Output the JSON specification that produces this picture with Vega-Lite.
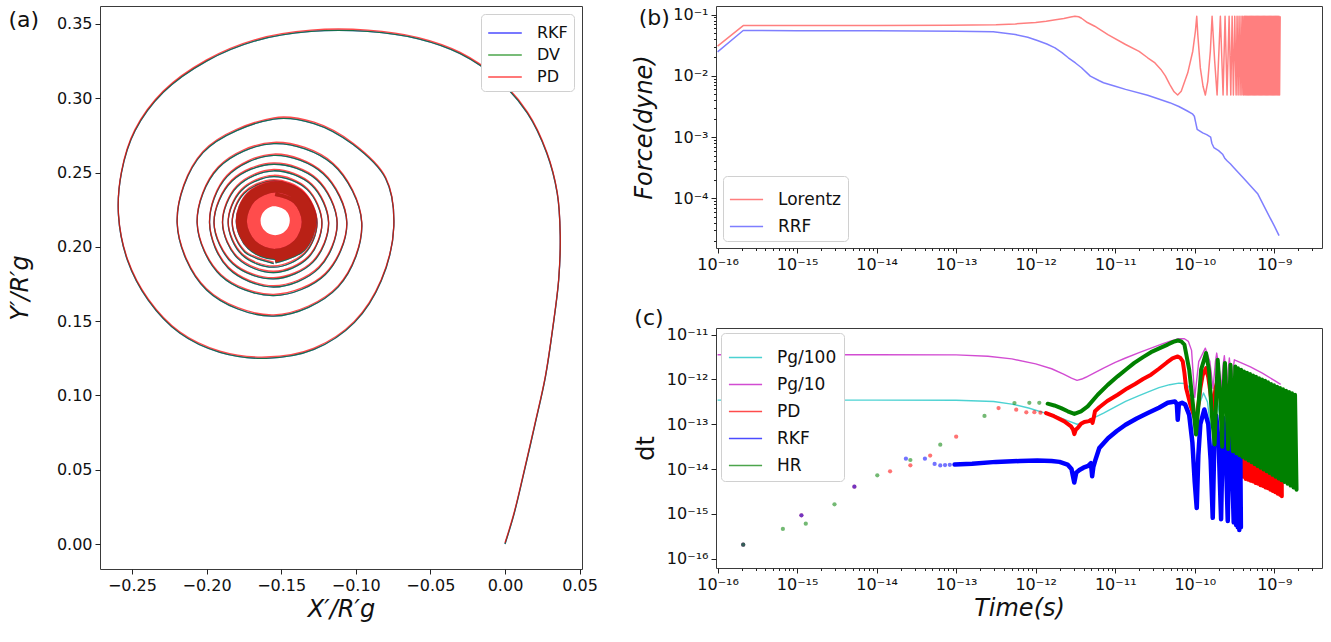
{
  "$schema": "https://vega.github.io/schema/vega-lite/v6.json",
  "background": "white",
  "padding": {"left": 7, "top": 5, "right": 4, "bottom": 2},
  "spacing": 34,
  "resolve": {"scale": {"color": "independent"}, "legend": {"color": "independent"}},
  "datasets": {
    "spiral": [
      {"i":0,"x":0,"y":0},{"i":1,"x":0.006,"y":0.02},{"i":2,"x":0.012,"y":0.045},{"i":3,"x":0.02,"y":0.08},{"i":4,"x":0.027,"y":0.112},{"i":5,"x":0.032,"y":0.145},{"i":6,"x":0.036,"y":0.178},{"i":7,"x":0.037,"y":0.208},{"i":8,"x":0.035,"y":0.236},{"i":9,"x":0.028,"y":0.263},{"i":10,"x":0.015,"y":0.29},{"i":11,"x":-0.005,"y":0.313},{"i":12,"x":-0.03,"y":0.33},{"i":13,"x":-0.058,"y":0.34},{"i":14,"x":-0.092,"y":0.345},{"i":15,"x":-0.13,"y":0.345},{"i":16,"x":-0.166,"y":0.339},{"i":17,"x":-0.2,"y":0.325},{"i":18,"x":-0.229,"y":0.304},{"i":19,"x":-0.248,"y":0.278},{"i":20,"x":-0.257,"y":0.25},{"i":21,"x":-0.259,"y":0.221},{"i":22,"x":-0.253,"y":0.191},{"i":23,"x":-0.239,"y":0.164},{"i":24,"x":-0.218,"y":0.142},{"i":25,"x":-0.191,"y":0.129},{"i":26,"x":-0.16,"y":0.125},{"i":27,"x":-0.128,"y":0.131},{"i":28,"x":-0.101,"y":0.149},{"i":29,"x":-0.083,"y":0.177},{"i":30,"x":-0.0745,"y":0.214},{"i":31,"x":-0.08,"y":0.246},{"i":32,"x":-0.102,"y":0.269},{"i":33,"x":-0.128,"y":0.283},{"i":34,"x":-0.155,"y":0.286},{"i":35,"x":-0.2024,"y":0.2634},{"i":36,"x":-0.2197,"y":0.216},{"i":37,"x":-0.2,"y":0.171},{"i":38,"x":-0.155,"y":0.1534},{"i":39,"x":-0.1119,"y":0.1729},{"i":40,"x":-0.096,"y":0.216},{"i":41,"x":-0.1154,"y":0.2556},{"i":42,"x":-0.155,"y":0.2695},{"i":43,"x":-0.1921,"y":0.2531},{"i":44,"x":-0.2063,"y":0.216},{"i":45,"x":-0.1904,"y":0.1806},{"i":46,"x":-0.155,"y":0.1672},{"i":47,"x":-0.1204,"y":0.1814},{"i":48,"x":-0.106,"y":0.216},{"i":49,"x":-0.1218,"y":0.2492},{"i":50,"x":-0.155,"y":0.2616},{"i":51,"x":-0.1863,"y":0.2473},{"i":52,"x":-0.198,"y":0.216},{"i":53,"x":-0.1854,"y":0.1856},{"i":54,"x":-0.155,"y":0.173},{"i":55,"x":-0.1247,"y":0.1857},{"i":56,"x":-0.1125,"y":0.216},{"i":57,"x":-0.126,"y":0.245},{"i":58,"x":-0.155,"y":0.2556},{"i":59,"x":-0.1831,"y":0.2441},{"i":60,"x":-0.195,"y":0.216},{"i":61,"x":-0.1824,"y":0.1886},{"i":62,"x":-0.155,"y":0.1784},{"i":63,"x":-0.1287,"y":0.1897},{"i":64,"x":-0.1182,"y":0.216},{"i":65,"x":-0.1295,"y":0.2415},{"i":66,"x":-0.155,"y":0.2512},{"i":67,"x":-0.1795,"y":0.2405},{"i":68,"x":-0.1893,"y":0.216},{"i":69,"x":-0.1789,"y":0.1921},{"i":70,"x":-0.155,"y":0.1827},{"i":71,"x":-0.1318,"y":0.1928},{"i":72,"x":-0.1227,"y":0.216},{"i":73,"x":-0.1325,"y":0.2385},{"i":74,"x":-0.155,"y":0.2473},{"i":75,"x":-0.1768,"y":0.2378},{"i":76,"x":-0.1855,"y":0.216},{"i":77,"x":-0.1763,"y":0.1947},{"i":78,"x":-0.155,"y":0.1863},{"i":79,"x":-0.1343,"y":0.1953},{"i":80,"x":-0.126,"y":0.216},{"i":81,"x":-0.1347,"y":0.2363},{"i":82,"x":-0.155,"y":0.2444},{"i":83,"x":-0.1749,"y":0.2359},{"i":84,"x":-0.1828,"y":0.216},{"i":85,"x":-0.1744,"y":0.1966},{"i":86,"x":-0.155,"y":0.1888}
    ],
    "core": [
      {"j":0,"x":-0.154,"y":0.1901},{"j":1,"x":-0.1352,"y":0.1982},{"j":2,"x":-0.1277,"y":0.217},{"j":3,"x":-0.1356,"y":0.2354},{"j":4,"x":-0.154,"y":0.2427},{"j":5,"x":-0.172,"y":0.235},{"j":6,"x":-0.1791,"y":0.217},{"j":7,"x":-0.1715,"y":0.1995},{"j":8,"x":-0.154,"y":0.1925},{"j":9,"x":-0.1369,"y":0.1999},{"j":10,"x":-0.1301,"y":0.217},{"j":11,"x":-0.1373,"y":0.2337},{"j":12,"x":-0.154,"y":0.2403},{"j":13,"x":-0.1703,"y":0.2333},{"j":14,"x":-0.1767,"y":0.217},{"j":15,"x":-0.1698,"y":0.2012},{"j":16,"x":-0.154,"y":0.1949},{"j":17,"x":-0.1386,"y":0.2016},{"j":18,"x":-0.1325,"y":0.217},{"j":19,"x":-0.139,"y":0.232},{"j":20,"x":-0.154,"y":0.2379},{"j":21,"x":-0.1686,"y":0.2316},{"j":22,"x":-0.1743,"y":0.217},{"j":23,"x":-0.1681,"y":0.2029},{"j":24,"x":-0.154,"y":0.1973},{"j":25,"x":-0.1403,"y":0.2033},{"j":26,"x":-0.1349,"y":0.217},{"j":27,"x":-0.1407,"y":0.2303},{"j":28,"x":-0.154,"y":0.2355},{"j":29,"x":-0.1669,"y":0.2299},{"j":30,"x":-0.1719,"y":0.217},{"j":31,"x":-0.1664,"y":0.2046},{"j":32,"x":-0.154,"y":0.1997},{"j":33,"x":-0.142,"y":0.205},{"j":34,"x":-0.1373,"y":0.217},{"j":35,"x":-0.1424,"y":0.2286},{"j":36,"x":-0.154,"y":0.2331},{"j":37,"x":-0.1652,"y":0.2282},{"j":38,"x":-0.1695,"y":0.217},{"j":39,"x":-0.1647,"y":0.2063},{"j":40,"x":-0.154,"y":0.2021},{"j":41,"x":-0.1437,"y":0.2067},{"j":42,"x":-0.1397,"y":0.217},{"j":43,"x":-0.1441,"y":0.2269},{"j":44,"x":-0.154,"y":0.2307},{"j":45,"x":-0.1635,"y":0.2265},{"j":46,"x":-0.1671,"y":0.217},{"j":47,"x":-0.1631,"y":0.2079},{"j":48,"x":-0.154,"y":0.2045},{"j":49,"x":-0.1454,"y":0.2084},{"j":50,"x":-0.1421,"y":0.217},{"j":51,"x":-0.1458,"y":0.2252},{"j":52,"x":-0.154,"y":0.2283},{"j":53,"x":-0.1618,"y":0.2249},{"j":54,"x":-0.1652,"y":0.217},{"j":55,"x":-0.1619,"y":0.2091},{"j":56,"x":-0.154,"y":0.2058},{"j":57,"x":-0.1461,"y":0.2091},{"j":58,"x":-0.1428,"y":0.217},{"j":59,"x":-0.1461,"y":0.2249},{"j":60,"x":-0.154,"y":0.2282}
    ],
    "force": [
      {"s":"Lorentz","t":-16,"f":-1.515},{"s":"Lorentz","t":-15.678,"f":-1.179},{"s":"Lorentz","t":-15,"f":-1.178},{"s":"Lorentz","t":-14,"f":-1.177},{"s":"Lorentz","t":-13.088,"f":-1.174},{"s":"Lorentz","t":-12.5,"f":-1.165},{"s":"Lorentz","t":-12.256,"f":-1.152},{"s":"Lorentz","t":-12,"f":-1.13},{"s":"Lorentz","t":-11.868,"f":-1.109},{"s":"Lorentz","t":-11.75,"f":-1.085},{"s":"Lorentz","t":-11.646,"f":-1.065},{"s":"Lorentz","t":-11.56,"f":-1.04},{"s":"Lorentz","t":-11.507,"f":-1.027},{"s":"Lorentz","t":-11.46,"f":-1.035},{"s":"Lorentz","t":-11.424,"f":-1.06},{"s":"Lorentz","t":-11.35,"f":-1.13},{"s":"Lorentz","t":-11.258,"f":-1.19},{"s":"Lorentz","t":-11.092,"f":-1.326},{"s":"Lorentz","t":-10.87,"f":-1.488},{"s":"Lorentz","t":-10.7,"f":-1.6},{"s":"Lorentz","t":-10.592,"f":-1.705},{"s":"Lorentz","t":-10.5,"f":-1.79},{"s":"Lorentz","t":-10.426,"f":-1.895},{"s":"Lorentz","t":-10.37,"f":-2.0},{"s":"Lorentz","t":-10.315,"f":-2.139},{"s":"Lorentz","t":-10.26,"f":-2.26},{"s":"Lorentz","t":-10.215,"f":-2.313},{"s":"Lorentz","t":-10.17,"f":-2.25},{"s":"Lorentz","t":-10.088,"f":-1.951},{"s":"Lorentz","t":-10.025,"f":-1.598},{"s":"Lorentz","t":-9.992,"f":-1.272},{"s":"Lorentz","t":-9.975,"f":-1.028},{"s":"Lorentz","t":-9.962,"f":-1.326},{"s":"Lorentz","t":-9.93,"f":-1.87},{"s":"Lorentz","t":-9.896,"f":-2.17},{"s":"Lorentz","t":-9.867,"f":-2.313},{"s":"Lorentz","t":-9.836,"f":-2.09},{"s":"Lorentz","t":-9.804,"f":-1.6},{"s":"Lorentz","t":-9.782,"f":-1.028},{"s":"Lorentz","t":-9.75,"f":-1.75},{"s":"Lorentz","t":-9.719,"f":-2.313},{"s":"Lorentz","t":-9.678,"f":-1.028},{"s":"Lorentz","t":-9.644,"f":-2.313},{"s":"Lorentz","t":-9.619,"f":-1.028},{"s":"Lorentz","t":-9.594,"f":-2.313},{"s":"Lorentz","t":-9.568,"f":-1.028},{"s":"Lorentz","t":-9.547,"f":-2.313},{"s":"Lorentz","t":-9.53,"f":-1.028},{"s":"Lorentz","t":-9.514,"f":-2.313},{"s":"Lorentz","t":-9.497,"f":-1.028},{"s":"Lorentz","t":-9.48,"f":-2.313},{"s":"Lorentz","t":-9.468,"f":-1.028},{"s":"Lorentz","t":-9.455,"f":-2.313},{"s":"Lorentz","t":-9.443,"f":-1.028},{"s":"Lorentz","t":-9.43,"f":-2.313},{"s":"Lorentz","t":-9.418,"f":-1.028},{"s":"Lorentz","t":-9.407,"f":-2.313},{"s":"Lorentz","t":-9.396,"f":-1.028},{"s":"Lorentz","t":-9.386,"f":-2.313},
      {"s":"Lorentz","t":-9.376,"f":-1.028},{"s":"Lorentz","t":-9.3685,"f":-2.313},{"s":"Lorentz","t":-9.361,"f":-1.028},{"s":"Lorentz","t":-9.3535,"f":-2.313},{"s":"Lorentz","t":-9.346,"f":-1.028},{"s":"Lorentz","t":-9.3385,"f":-2.313},{"s":"Lorentz","t":-9.331,"f":-1.028},{"s":"Lorentz","t":-9.3235,"f":-2.313},{"s":"Lorentz","t":-9.316,"f":-1.028},{"s":"Lorentz","t":-9.3085,"f":-2.313},{"s":"Lorentz","t":-9.301,"f":-1.028},{"s":"Lorentz","t":-9.2935,"f":-2.313},{"s":"Lorentz","t":-9.286,"f":-1.028},{"s":"Lorentz","t":-9.2785,"f":-2.313},{"s":"Lorentz","t":-9.271,"f":-1.028},{"s":"Lorentz","t":-9.2635,"f":-2.313},{"s":"Lorentz","t":-9.256,"f":-1.028},{"s":"Lorentz","t":-9.2485,"f":-2.313},{"s":"Lorentz","t":-9.241,"f":-1.028},{"s":"Lorentz","t":-9.2335,"f":-2.313},{"s":"Lorentz","t":-9.226,"f":-1.028},{"s":"Lorentz","t":-9.2185,"f":-2.313},{"s":"Lorentz","t":-9.211,"f":-1.028},{"s":"Lorentz","t":-9.2035,"f":-2.313},{"s":"Lorentz","t":-9.196,"f":-1.028},{"s":"Lorentz","t":-9.1885,"f":-2.313},{"s":"Lorentz","t":-9.181,"f":-1.028},{"s":"Lorentz","t":-9.1735,"f":-2.313},{"s":"Lorentz","t":-9.166,"f":-1.028},{"s":"Lorentz","t":-9.1585,"f":-2.313},{"s":"Lorentz","t":-9.151,"f":-1.028},{"s":"Lorentz","t":-9.1435,"f":-2.313},{"s":"Lorentz","t":-9.136,"f":-1.028},{"s":"Lorentz","t":-9.1285,"f":-2.313},{"s":"Lorentz","t":-9.121,"f":-1.028},{"s":"Lorentz","t":-9.1135,"f":-2.313},{"s":"Lorentz","t":-9.106,"f":-1.028},{"s":"Lorentz","t":-9.0985,"f":-2.313},{"s":"Lorentz","t":-9.091,"f":-1.028},{"s":"Lorentz","t":-9.0835,"f":-2.313},{"s":"Lorentz","t":-9.076,"f":-1.028},{"s":"Lorentz","t":-9.0685,"f":-2.313},{"s":"Lorentz","t":-9.061,"f":-1.028},{"s":"Lorentz","t":-9.0535,"f":-2.313},{"s":"Lorentz","t":-9.046,"f":-1.028},{"s":"Lorentz","t":-9.0385,"f":-2.313},{"s":"Lorentz","t":-9.031,"f":-1.028},{"s":"Lorentz","t":-9.0235,"f":-2.313},{"s":"Lorentz","t":-9.016,"f":-1.028},{"s":"Lorentz","t":-9.0085,"f":-2.313},{"s":"Lorentz","t":-9.001,"f":-1.028},{"s":"Lorentz","t":-8.9935,"f":-2.313},{"s":"Lorentz","t":-8.986,"f":-1.028},{"s":"Lorentz","t":-8.9785,"f":-2.313},{"s":"Lorentz","t":-8.971,"f":-1.028},{"s":"Lorentz","t":-8.9635,"f":-2.313},{"s":"Lorentz","t":-8.956,"f":-1.028},{"s":"Lorentz","t":-8.9485,"f":-2.313},{"s":"Lorentz","t":-8.941,"f":-1.028},{"s":"Lorentz","t":-8.9335,"f":-2.313},{"s":"Lorentz","t":-8.926,"f":-1.028},
      {"s":"RRF","t":-16,"f":-1.608},{"s":"RRF","t":-15.678,"f":-1.26},{"s":"RRF","t":-15,"f":-1.262},{"s":"RRF","t":-14,"f":-1.265},{"s":"RRF","t":-13,"f":-1.272},{"s":"RRF","t":-12.534,"f":-1.282},{"s":"RRF","t":-12.256,"f":-1.326},{"s":"RRF","t":-12.1,"f":-1.37},{"s":"RRF","t":-11.979,"f":-1.423},{"s":"RRF","t":-11.86,"f":-1.48},{"s":"RRF","t":-11.757,"f":-1.543},{"s":"RRF","t":-11.67,"f":-1.62},{"s":"RRF","t":-11.59,"f":-1.705},{"s":"RRF","t":-11.5,"f":-1.79},{"s":"RRF","t":-11.424,"f":-1.868},{"s":"RRF","t":-11.313,"f":-2.004},{"s":"RRF","t":-11.2,"f":-2.08},{"s":"RRF","t":-11.147,"f":-2.112},{"s":"RRF","t":-11,"f":-2.17},{"s":"RRF","t":-10.87,"f":-2.221},{"s":"RRF","t":-10.592,"f":-2.318},{"s":"RRF","t":-10.315,"f":-2.438},{"s":"RRF","t":-10.2,"f":-2.5},{"s":"RRF","t":-10.093,"f":-2.574},{"s":"RRF","t":-10.03,"f":-2.62},{"s":"RRF","t":-10.005,"f":-2.66},{"s":"RRF","t":-9.99,"f":-2.75},{"s":"RRF","t":-9.97,"f":-2.872},{"s":"RRF","t":-9.9,"f":-2.93},{"s":"RRF","t":-9.85,"f":-2.96},{"s":"RRF","t":-9.8,"f":-3.0},{"s":"RRF","t":-9.785,"f":-3.1},{"s":"RRF","t":-9.76,"f":-3.17},{"s":"RRF","t":-9.7,"f":-3.22},{"s":"RRF","t":-9.65,"f":-3.279},{"s":"RRF","t":-9.62,"f":-3.35},{"s":"RRF","t":-9.594,"f":-3.387},{"s":"RRF","t":-9.55,"f":-3.44},{"s":"RRF","t":-9.511,"f":-3.496},{"s":"RRF","t":-9.4,"f":-3.65},{"s":"RRF","t":-9.206,"f":-3.93},{"s":"RRF","t":-9.1,"f":-4.2},{"s":"RRF","t":-9.0,"f":-4.45},{"s":"RRF","t":-8.94,"f":-4.608}
    ],
    "pg": [
      {"s":"Pg/100","t":-16,"d":-12.46},{"s":"Pg/100","t":-15,"d":-12.46},{"s":"Pg/100","t":-14,"d":-12.46},{"s":"Pg/100","t":-13,"d":-12.465},{"s":"Pg/100","t":-12.53,"d":-12.49},{"s":"Pg/100","t":-12.3,"d":-12.55},{"s":"Pg/100","t":-12.09,"d":-12.637},{"s":"Pg/100","t":-11.9,"d":-12.74},{"s":"Pg/100","t":-11.757,"d":-12.808},{"s":"Pg/100","t":-11.6,"d":-12.92},{"s":"Pg/100","t":-11.48,"d":-13.0},{"s":"Pg/100","t":-11.42,"d":-12.98},{"s":"Pg/100","t":-11.37,"d":-12.935},{"s":"Pg/100","t":-11.25,"d":-12.84},{"s":"Pg/100","t":-11.147,"d":-12.749},{"s":"Pg/100","t":-11,"d":-12.61},{"s":"Pg/100","t":-10.87,"d":-12.488},{"s":"Pg/100","t":-10.7,"d":-12.36},{"s":"Pg/100","t":-10.592,"d":-12.28},{"s":"Pg/100","t":-10.45,"d":-12.18},{"s":"Pg/100","t":-10.315,"d":-12.116},{"s":"Pg/100","t":-10.2,"d":-12.08},{"s":"Pg/100","t":-10.13,"d":-12.09},{"s":"Pg/100","t":-10.08,"d":-12.15},{"s":"Pg/100","t":-10.04,"d":-12.35},{"s":"Pg/100","t":-10.0,"d":-13.2},{"s":"Pg/100","t":-9.95,"d":-12.6},{"s":"Pg/100","t":-9.89,"d":-12.3},{"s":"Pg/100","t":-9.84,"d":-12.5},{"s":"Pg/100","t":-9.8,"d":-13.1},{"s":"Pg/100","t":-9.76,"d":-12.5},{"s":"Pg/100","t":-9.72,"d":-12.41},{"s":"Pg/100","t":-9.68,"d":-12.9},{"s":"Pg/100","t":-9.64,"d":-12.48},{"s":"Pg/100","t":-9.6,"d":-12.9},{"s":"Pg/100","t":-9.565,"d":-12.53},{"s":"Pg/100","t":-9.53,"d":-12.9},{"s":"Pg/100","t":-9.5,"d":-12.57},{"s":"Pg/100","t":-9.3,"d":-12.72},{"s":"Pg/100","t":-9.1,"d":-12.88},{"s":"Pg/100","t":-8.92,"d":-13.05},
      {"s":"Pg/10","t":-16,"d":-11.446},{"s":"Pg/10","t":-15,"d":-11.446},{"s":"Pg/10","t":-14,"d":-11.446},{"s":"Pg/10","t":-13,"d":-11.45},{"s":"Pg/10","t":-12.6,"d":-11.48},{"s":"Pg/10","t":-12.3,"d":-11.54},{"s":"Pg/10","t":-12,"d":-11.65},{"s":"Pg/10","t":-11.8,"d":-11.76},{"s":"Pg/10","t":-11.65,"d":-11.88},{"s":"Pg/10","t":-11.55,"d":-11.97},{"s":"Pg/10","t":-11.48,"d":-12.02},{"s":"Pg/10","t":-11.42,"d":-11.99},{"s":"Pg/10","t":-11.37,"d":-11.95},{"s":"Pg/10","t":-11.25,"d":-11.84},{"s":"Pg/10","t":-11.147,"d":-11.744},{"s":"Pg/10","t":-11,"d":-11.62},{"s":"Pg/10","t":-10.87,"d":-11.52},{"s":"Pg/10","t":-10.7,"d":-11.4},{"s":"Pg/10","t":-10.55,"d":-11.3},{"s":"Pg/10","t":-10.4,"d":-11.2},{"s":"Pg/10","t":-10.3,"d":-11.14},{"s":"Pg/10","t":-10.2,"d":-11.09},{"s":"Pg/10","t":-10.13,"d":-11.09},{"s":"Pg/10","t":-10.08,"d":-11.15},{"s":"Pg/10","t":-10.04,"d":-11.35},{"s":"Pg/10","t":-10.0,"d":-12.4},{"s":"Pg/10","t":-9.95,"d":-11.6},{"s":"Pg/10","t":-9.867,"d":-11.3},{"s":"Pg/10","t":-9.81,"d":-11.6},{"s":"Pg/10","t":-9.77,"d":-12.2},{"s":"Pg/10","t":-9.74,"d":-11.6},{"s":"Pg/10","t":-9.724,"d":-11.41},{"s":"Pg/10","t":-9.69,"d":-11.8},{"s":"Pg/10","t":-9.665,"d":-12.2},{"s":"Pg/10","t":-9.645,"d":-11.7},{"s":"Pg/10","t":-9.628,"d":-11.47},{"s":"Pg/10","t":-9.61,"d":-11.8},{"s":"Pg/10","t":-9.595,"d":-12.2},{"s":"Pg/10","t":-9.58,"d":-11.8},{"s":"Pg/10","t":-9.565,"d":-11.52},{"s":"Pg/10","t":-9.55,"d":-11.8},{"s":"Pg/10","t":-9.535,"d":-12.2},{"s":"Pg/10","t":-9.52,"d":-11.8},{"s":"Pg/10","t":-9.502,"d":-11.56},{"s":"Pg/10","t":-9.4,"d":-11.64},{"s":"Pg/10","t":-9.3,"d":-11.72},{"s":"Pg/10","t":-9.15,"d":-11.86},{"s":"Pg/10","t":-9.0,"d":-12.02},{"s":"Pg/10","t":-8.92,"d":-12.11}
    ],
    "sparse": [
      {"s":"PD","t":-15.678,"d":-15.688},{"s":"PD","t":-14.946,"d":-15.033},{"s":"PD","t":-14.28,"d":-14.393},{"s":"PD","t":-13.831,"d":-14.05},{"s":"PD","t":-13.576,"d":-13.917},{"s":"PD","t":-13.327,"d":-13.7},{"s":"PD","t":-13.0,"d":-13.277},{"s":"PD","t":-12.467,"d":-12.637},{"s":"PD","t":-12.245,"d":-12.674},{"s":"PD","t":-12.118,"d":-12.734},{"s":"PD","t":-12.017,"d":-12.73},{"s":"PD","t":-11.94,"d":-12.74},
      {"s":"RKF","t":-15.678,"d":-15.688},{"s":"RKF","t":-14.946,"d":-15.033},{"s":"RKF","t":-14.28,"d":-14.393},{"s":"RKF","t":-13.632,"d":-13.768},{"s":"RKF","t":-13.393,"d":-13.768},{"s":"RKF","t":-13.271,"d":-13.887},{"s":"RKF","t":-13.2,"d":-13.92},{"s":"RKF","t":-13.14,"d":-13.91},{"s":"RKF","t":-13.08,"d":-13.905},
      {"s":"HR","t":-15.678,"d":-15.688},{"s":"HR","t":-15.179,"d":-15.338},{"s":"HR","t":-14.891,"d":-15.219},{"s":"HR","t":-14.53,"d":-14.787},{"s":"HR","t":-13.992,"d":-14.14},{"s":"HR","t":-13.576,"d":-13.798},{"s":"HR","t":-13.2,"d":-13.455},{"s":"HR","t":-12.644,"d":-12.815},{"s":"HR","t":-12.267,"d":-12.525},{"s":"HR","t":-12.08,"d":-12.52},{"s":"HR","t":-11.955,"d":-12.52}
    ],
    "dense": [
      {"s":"PD","t":-11.87,"d":-12.75},{"s":"PD","t":-11.77,"d":-12.82},{"s":"PD","t":-11.64,"d":-12.935},{"s":"PD","t":-11.556,"d":-13.047},{"s":"PD","t":-11.53,"d":-13.12},{"s":"PD","t":-11.514,"d":-13.22},{"s":"PD","t":-11.495,"d":-13.12},{"s":"PD","t":-11.472,"d":-13.085},{"s":"PD","t":-11.43,"d":-12.99},{"s":"PD","t":-11.389,"d":-12.95},{"s":"PD","t":-11.33,"d":-12.93},{"s":"PD","t":-11.304,"d":-12.9},{"s":"PD","t":-11.285,"d":-12.97},{"s":"PD","t":-11.27,"d":-12.85},{"s":"PD","t":-11.255,"d":-12.71},{"s":"PD","t":-11.2,"d":-12.62},{"s":"PD","t":-11.1,"d":-12.48},{"s":"PD","t":-10.969,"d":-12.34},{"s":"PD","t":-10.85,"d":-12.2},{"s":"PD","t":-10.75,"d":-12.1},{"s":"PD","t":-10.65,"d":-11.99},{"s":"PD","t":-10.55,"d":-11.893},{"s":"PD","t":-10.45,"d":-11.76},{"s":"PD","t":-10.35,"d":-11.62},{"s":"PD","t":-10.28,"d":-11.53},{"s":"PD","t":-10.214,"d":-11.484},{"s":"PD","t":-10.18,"d":-11.52},{"s":"PD","t":-10.151,"d":-11.596},{"s":"PD","t":-10.13,"d":-11.85},{"s":"PD","t":-10.109,"d":-12.19},{"s":"PD","t":-10.05,"d":-12.6},{"s":"PD","t":-9.984,"d":-12.935},{"s":"PD","t":-9.95,"d":-12.5},{"s":"PD","t":-9.93,"d":-12.2},{"s":"PD","t":-9.9,"d":-11.9},{"s":"PD","t":-9.858,"d":-11.745},{"s":"PD","t":-9.83,"d":-11.95},{"s":"PD","t":-9.81,"d":-12.2},{"s":"PD","t":-9.774,"d":-12.7},{"s":"PD","t":-9.74,"d":-12.2},{"s":"PD","t":-9.711,"d":-12.0},{"s":"PD","t":-9.68,"d":-12.3},{"s":"PD","t":-9.648,"d":-12.67},{"s":"PD","t":-9.625,"d":-12.3},{"s":"PD","t":-9.606,"d":-12.12},{"s":"PD","t":-9.575,"d":-12.4},{"s":"PD","t":-9.545,"d":-12.7},
      {"s":"PD","t":-9.53,"d":-12.15},{"s":"PD","t":-9.5145,"d":-13.1},{"s":"PD","t":-9.499,"d":-12.16},{"s":"PD","t":-9.4835,"d":-13.5},{"s":"PD","t":-9.468,"d":-12.17},{"s":"PD","t":-9.4525,"d":-13.95},{"s":"PD","t":-9.437,"d":-12.18},{"s":"PD","t":-9.4215,"d":-14.07},{"s":"PD","t":-9.406,"d":-12.18},{"s":"PD","t":-9.3905,"d":-14.17},{"s":"PD","t":-9.375,"d":-12.19},{"s":"PD","t":-9.3595,"d":-14.22},{"s":"PD","t":-9.344,"d":-12.2},{"s":"PD","t":-9.3285,"d":-14.24},{"s":"PD","t":-9.313,"d":-12.21},{"s":"PD","t":-9.2975,"d":-14.26},{"s":"PD","t":-9.282,"d":-12.23},{"s":"PD","t":-9.2665,"d":-14.28},{"s":"PD","t":-9.251,"d":-12.24},{"s":"PD","t":-9.2355,"d":-14.31},{"s":"PD","t":-9.22,"d":-12.25},{"s":"PD","t":-9.2045,"d":-14.33},{"s":"PD","t":-9.189,"d":-12.26},{"s":"PD","t":-9.1735,"d":-14.36},{"s":"PD","t":-9.158,"d":-12.28},{"s":"PD","t":-9.1425,"d":-14.38},{"s":"PD","t":-9.127,"d":-12.29},{"s":"PD","t":-9.1115,"d":-14.41},{"s":"PD","t":-9.096,"d":-12.31},{"s":"PD","t":-9.0805,"d":-14.43},{"s":"PD","t":-9.065,"d":-12.33},{"s":"PD","t":-9.0495,"d":-14.46},{"s":"PD","t":-9.034,"d":-12.34},{"s":"PD","t":-9.0185,"d":-14.49},{"s":"PD","t":-9.003,"d":-12.36},{"s":"PD","t":-8.9875,"d":-14.52},{"s":"PD","t":-8.972,"d":-12.38},{"s":"PD","t":-8.9565,"d":-14.55},{"s":"PD","t":-8.941,"d":-12.4},{"s":"PD","t":-8.9255,"d":-14.58},{"s":"PD","t":-8.91,"d":-12.42},{"s":"PD","t":-8.905,"d":-14.61},
      {"s":"RKF","t":-13.02,"d":-13.9},{"s":"RKF","t":-12.8,"d":-13.88},{"s":"RKF","t":-12.5,"d":-13.84},{"s":"RKF","t":-12.2,"d":-13.82},{"s":"RKF","t":-11.98,"d":-13.81},{"s":"RKF","t":-11.8,"d":-13.82},{"s":"RKF","t":-11.7,"d":-13.84},{"s":"RKF","t":-11.6,"d":-13.9},{"s":"RKF","t":-11.55,"d":-14.0},{"s":"RKF","t":-11.515,"d":-14.3},{"s":"RKF","t":-11.49,"d":-14.08},{"s":"RKF","t":-11.45,"d":-14.02},{"s":"RKF","t":-11.4,"d":-13.97},{"s":"RKF","t":-11.34,"d":-13.93},{"s":"RKF","t":-11.305,"d":-13.87},{"s":"RKF","t":-11.29,"d":-14.16},{"s":"RKF","t":-11.275,"d":-13.95},{"s":"RKF","t":-11.25,"d":-13.8},{"s":"RKF","t":-11.2,"d":-13.53},{"s":"RKF","t":-11.09,"d":-13.31},{"s":"RKF","t":-10.98,"d":-13.15},{"s":"RKF","t":-10.87,"d":-13.01},{"s":"RKF","t":-10.73,"d":-12.87},{"s":"RKF","t":-10.59,"d":-12.75},{"s":"RKF","t":-10.45,"d":-12.63},{"s":"RKF","t":-10.34,"d":-12.52},{"s":"RKF","t":-10.25,"d":-12.49},{"s":"RKF","t":-10.225,"d":-12.55},{"s":"RKF","t":-10.214,"d":-12.9},{"s":"RKF","t":-10.2,"d":-12.55},{"s":"RKF","t":-10.16,"d":-12.52},{"s":"RKF","t":-10.12,"d":-12.56},{"s":"RKF","t":-10.07,"d":-12.79},{"s":"RKF","t":-10.03,"d":-13.4},{"s":"RKF","t":-10.0,"d":-14.3},{"s":"RKF","t":-9.975,"d":-14.87},{"s":"RKF","t":-9.955,"d":-13.7},{"s":"RKF","t":-9.93,"d":-13.0},{"s":"RKF","t":-9.88,"d":-12.67},{"s":"RKF","t":-9.83,"d":-13.0},{"s":"RKF","t":-9.8,"d":-13.8},{"s":"RKF","t":-9.774,"d":-15.09},{"s":"RKF","t":-9.755,"d":-13.5},{"s":"RKF","t":-9.73,"d":-12.81},{"s":"RKF","t":-9.7,"d":-13.4},{"s":"RKF","t":-9.669,"d":-15.12},{"s":"RKF","t":-9.65,"d":-13.4},{"s":"RKF","t":-9.64,"d":-12.86},{"s":"RKF","t":-9.61,"d":-13.6},{"s":"RKF","t":-9.585,"d":-15.16},{"s":"RKF","t":-9.57,"d":-13.5},{"s":"RKF","t":-9.56,"d":-12.9},{"s":"RKF","t":-9.535,"d":-13.7},{"s":"RKF","t":-9.51,"d":-15.19},{"s":"RKF","t":-9.5,"d":-13.5},{"s":"RKF","t":-9.49,"d":-12.93},{"s":"RKF","t":-9.48,"d":-15.25},{"s":"RKF","t":-9.47,"d":-12.95},{"s":"RKF","t":-9.46,"d":-15.3},{"s":"RKF","t":-9.45,"d":-12.97},{"s":"RKF","t":-9.44,"d":-15.36},{"s":"RKF","t":-9.43,"d":-13.0},{"s":"RKF","t":-9.42,"d":-15.3},
      {"s":"HR","t":-11.85,"d":-12.54},{"s":"HR","t":-11.766,"d":-12.58},{"s":"HR","t":-11.68,"d":-12.64},{"s":"HR","t":-11.597,"d":-12.71},{"s":"HR","t":-11.514,"d":-12.77},{"s":"HR","t":-11.43,"d":-12.71},{"s":"HR","t":-11.346,"d":-12.6},{"s":"HR","t":-11.22,"d":-12.34},{"s":"HR","t":-11.094,"d":-12.12},{"s":"HR","t":-10.97,"d":-11.93},{"s":"HR","t":-10.86,"d":-11.77},{"s":"HR","t":-10.76,"d":-11.63},{"s":"HR","t":-10.65,"d":-11.5},{"s":"HR","t":-10.55,"d":-11.39},{"s":"HR","t":-10.44,"d":-11.3},{"s":"HR","t":-10.34,"d":-11.22},{"s":"HR","t":-10.27,"d":-11.16},{"s":"HR","t":-10.214,"d":-11.13},{"s":"HR","t":-10.17,"d":-11.15},{"s":"HR","t":-10.13,"d":-11.22},{"s":"HR","t":-10.07,"d":-11.78},{"s":"HR","t":-10.02,"d":-12.6},{"s":"HR","t":-9.984,"d":-13.23},{"s":"HR","t":-9.95,"d":-12.5},{"s":"HR","t":-9.92,"d":-11.78},{"s":"HR","t":-9.858,"d":-11.41},{"s":"HR","t":-9.82,"d":-11.8},{"s":"HR","t":-9.785,"d":-12.8},{"s":"HR","t":-9.75,"d":-13.45},{"s":"HR","t":-9.73,"d":-12.4},{"s":"HR","t":-9.711,"d":-11.56},{"s":"HR","t":-9.68,"d":-12.4},{"s":"HR","t":-9.655,"d":-13.5},{"s":"HR","t":-9.64,"d":-12.3},{"s":"HR","t":-9.62,"d":-11.63},{"s":"HR","t":-9.6,"d":-12.5},{"s":"HR","t":-9.58,"d":-13.55},{"s":"HR","t":-9.565,"d":-12.5},{"s":"HR","t":-9.55,"d":-11.67},{"s":"HR","t":-9.535,"d":-12.6},{"s":"HR","t":-9.52,"d":-13.6},{"s":"HR","t":-9.505,"d":-12.6},{"s":"HR","t":-9.49,"d":-11.71},
      {"s":"HR","t":-9.475,"d":-13.65},{"s":"HR","t":-9.456,"d":-11.75},{"s":"HR","t":-9.437,"d":-13.69},{"s":"HR","t":-9.418,"d":-11.78},{"s":"HR","t":-9.4,"d":-13.73},{"s":"HR","t":-9.381,"d":-11.82},{"s":"HR","t":-9.362,"d":-13.77},{"s":"HR","t":-9.343,"d":-11.85},{"s":"HR","t":-9.324,"d":-13.81},{"s":"HR","t":-9.305,"d":-11.88},{"s":"HR","t":-9.286,"d":-13.85},{"s":"HR","t":-9.267,"d":-11.91},{"s":"HR","t":-9.248,"d":-13.89},{"s":"HR","t":-9.23,"d":-11.94},{"s":"HR","t":-9.211,"d":-13.93},{"s":"HR","t":-9.192,"d":-11.97},{"s":"HR","t":-9.173,"d":-13.97},{"s":"HR","t":-9.154,"d":-12.0},{"s":"HR","t":-9.135,"d":-14.01},{"s":"HR","t":-9.116,"d":-12.03},{"s":"HR","t":-9.097,"d":-14.05},{"s":"HR","t":-9.079,"d":-12.06},{"s":"HR","t":-9.06,"d":-14.09},{"s":"HR","t":-9.041,"d":-12.1},{"s":"HR","t":-9.022,"d":-14.13},{"s":"HR","t":-9.003,"d":-12.13},{"s":"HR","t":-8.984,"d":-14.17},{"s":"HR","t":-8.965,"d":-12.16},{"s":"HR","t":-8.946,"d":-14.21},{"s":"HR","t":-8.928,"d":-12.19},{"s":"HR","t":-8.909,"d":-14.25},{"s":"HR","t":-8.89,"d":-12.22},{"s":"HR","t":-8.871,"d":-14.29},{"s":"HR","t":-8.852,"d":-12.25},{"s":"HR","t":-8.833,"d":-14.33},{"s":"HR","t":-8.814,"d":-12.28},{"s":"HR","t":-8.795,"d":-14.37},{"s":"HR","t":-8.777,"d":-12.31},{"s":"HR","t":-8.758,"d":-14.41},{"s":"HR","t":-8.739,"d":-12.34},{"s":"HR","t":-8.72,"d":-14.46}
    ]
  },
  "hconcat": [
    {
      "width": 482,
      "height": 563,
      "title": {"text": "(a)", "offset": -26, "dx": 0},
      "layer": [
        {
          "data": {"name": "spiral"},
          "mark": {"type": "line", "interpolate": "catmull-rom", "strokeWidth": 1.3, "opacity": 0.7},
          "encoding": {
            "x": {"field": "x", "type": "quantitative", "scale": {"domain": [-0.2714, 0.0516], "nice": false, "zero": false},
                  "axis": {"title": "X′/R′g", "titleFontStyle": "italic", "titlePadding": 4, "values": [-0.25, -0.2, -0.15, -0.1, -0.05, 0, 0.05], "format": ".2f"}},
            "y": {"field": "y", "type": "quantitative", "scale": {"domain": [-0.0168, 0.3621], "nice": false, "zero": false},
                  "axis": {"title": "Y′/R′g", "titleFontStyle": "italic", "titlePadding": 24, "values": [0, 0.05, 0.1, 0.15, 0.2, 0.25, 0.3, 0.35], "format": ".2f"}},
            "order": {"field": "i"},
            "color": {"datum": "RKF", "scale": {"domain": ["RKF", "DV", "PD"], "range": ["#0000ff", "#008000", "#ff0000"]},
                      "legend": {"title": null, "orient": "top-right", "offset": 8, "padding": 6, "rowPadding": 1, "labelFontSize": 16, "symbolType": "M-1.4,0L1.4,0", "symbolSize": 576, "symbolStrokeWidth": 1.5, "symbolOffset": 5, "labelOffset": 19}}
          }
        },
        {
          "data": {"name": "spiral"},
          "mark": {"type": "line", "interpolate": "catmull-rom", "strokeWidth": 1.3, "opacity": 0.7},
          "encoding": {"x": {"field": "x", "type": "quantitative"}, "y": {"field": "y", "type": "quantitative"}, "order": {"field": "i"}, "color": {"datum": "DV"}}
        },
        {
          "data": {"name": "spiral"},
          "mark": {"type": "line", "interpolate": "catmull-rom", "strokeWidth": 1.3, "opacity": 0.7, "yOffset": -1.3},
          "encoding": {"x": {"field": "x", "type": "quantitative"}, "y": {"field": "y", "type": "quantitative"}, "order": {"field": "i"}, "color": {"datum": "PD"}}
        },
        {
          "data": {"name": "core"},
          "transform": [{"filter": "datum.j <= 28"}],
          "mark": {"type": "line", "interpolate": "catmull-rom", "strokeWidth": 4, "opacity": 0.7},
          "encoding": {"x": {"field": "x", "type": "quantitative"}, "y": {"field": "y", "type": "quantitative"}, "order": {"field": "j"}, "color": {"datum": "RKF"}}
        },
        {
          "data": {"name": "core"},
          "transform": [{"filter": "datum.j <= 28"}],
          "mark": {"type": "line", "interpolate": "catmull-rom", "strokeWidth": 4, "opacity": 0.7},
          "encoding": {"x": {"field": "x", "type": "quantitative"}, "y": {"field": "y", "type": "quantitative"}, "order": {"field": "j"}, "color": {"datum": "DV"}}
        },
        {
          "data": {"name": "core"},
          "mark": {"type": "line", "interpolate": "catmull-rom", "strokeWidth": 4.2, "opacity": 0.7, "yOffset": -1},
          "encoding": {"x": {"field": "x", "type": "quantitative"}, "y": {"field": "y", "type": "quantitative"}, "order": {"field": "j"}, "color": {"datum": "PD"}}
        }
      ]
    },
    {
      "resolve": {"scale": {"color": "independent"}, "legend": {"color": "independent"}},
      "vconcat": [
        {
          "width": 606,
          "height": 242,
          "title": {"text": "(b)", "offset": -24, "dx": 6},
          "data": {"name": "force"},
          "mark": {"type": "line", "strokeWidth": 1.5, "opacity": 0.5, "strokeJoin": "round"},
          "encoding": {
            "x": {"field": "t", "type": "quantitative", "scale": {"domain": [-16.02, -8.4], "nice": false, "zero": false},
                  "axis": {"title": null,
                           "values": [-16,-15.699,-15.523,-15.398,-15.301,-15.222,-15.155,-15.097,-15.046,-15,-14.699,-14.523,-14.398,-14.301,-14.222,-14.155,-14.097,-14.046,-14,-13.699,-13.523,-13.398,-13.301,-13.222,-13.155,-13.097,-13.046,-13,-12.699,-12.523,-12.398,-12.301,-12.222,-12.155,-12.097,-12.046,-12,-11.699,-11.523,-11.398,-11.301,-11.222,-11.155,-11.097,-11.046,-11,-10.699,-10.523,-10.398,-10.301,-10.222,-10.155,-10.097,-10.046,-10,-9.699,-9.523,-9.398,-9.301,-9.222,-9.155,-9.097,-9.046,-9,-8.699,-8.523],
                           "labelExpr": "abs(datum.value - round(datum.value)) < 0.01 ? '10⁻' + (-round(datum.value) >= 10 ? '¹' : '') + ['⁰','¹','²','³','⁴','⁵','⁶','⁷','⁸','⁹'][(-round(datum.value)) % 10] : ''",
                           "tickSize": {"condition": {"test": "abs(datum.value - round(datum.value)) < 0.01", "value": 5}, "value": 2.5}}},
            "y": {"field": "f", "type": "quantitative", "scale": {"domain": [-4.81, -0.86], "nice": false, "zero": false},
                  "axis": {"title": "Force(dyne)", "titleFontStyle": "italic", "titlePadding": 16,
                           "values": [-4.699,-4.523,-4.398,-4.301,-4.222,-4.155,-4.097,-4.046,-4,-3.699,-3.523,-3.398,-3.301,-3.222,-3.155,-3.097,-3.046,-3,-2.699,-2.523,-2.398,-2.301,-2.222,-2.155,-2.097,-2.046,-2,-1.699,-1.523,-1.398,-1.301,-1.222,-1.155,-1.097,-1.046,-1],
                           "labelExpr": "abs(datum.value - round(datum.value)) < 0.01 ? '10⁻' + (-round(datum.value) >= 10 ? '¹' : '') + ['⁰','¹','²','³','⁴','⁵','⁶','⁷','⁸','⁹'][(-round(datum.value)) % 10] : ''",
                           "tickSize": {"condition": {"test": "abs(datum.value - round(datum.value)) < 0.01", "value": 5}, "value": 2.5}}},
            "color": {"field": "s", "type": "nominal", "scale": {"domain": ["Lorentz", "RRF"], "range": ["#ff0000", "#0000ff"]},
                      "legend": {"title": null, "orient": "bottom-left", "offset": 7, "padding": 6, "rowPadding": 1, "labelFontSize": 17, "symbolType": "stroke", "symbolSize": 1100, "symbolStrokeWidth": 1.5, "labelOffset": 14}}
          }
        },
        {
          "width": 606,
          "height": 240,
          "title": {"text": "(c)", "offset": -3},
          "encoding": {
            "x": {"field": "t", "type": "quantitative", "scale": {"domain": [-16.02, -8.4], "nice": false, "zero": false},
                  "axis": {"title": "Time(s)", "titleFontStyle": "italic", "titlePadding": 4,
                           "values": [-16,-15.699,-15.523,-15.398,-15.301,-15.222,-15.155,-15.097,-15.046,-15,-14.699,-14.523,-14.398,-14.301,-14.222,-14.155,-14.097,-14.046,-14,-13.699,-13.523,-13.398,-13.301,-13.222,-13.155,-13.097,-13.046,-13,-12.699,-12.523,-12.398,-12.301,-12.222,-12.155,-12.097,-12.046,-12,-11.699,-11.523,-11.398,-11.301,-11.222,-11.155,-11.097,-11.046,-11,-10.699,-10.523,-10.398,-10.301,-10.222,-10.155,-10.097,-10.046,-10,-9.699,-9.523,-9.398,-9.301,-9.222,-9.155,-9.097,-9.046,-9,-8.699,-8.523],
                           "labelExpr": "abs(datum.value - round(datum.value)) < 0.01 ? '10⁻' + (-round(datum.value) >= 10 ? '¹' : '') + ['⁰','¹','²','³','⁴','⁵','⁶','⁷','⁸','⁹'][(-round(datum.value)) % 10] : ''",
                           "tickSize": {"condition": {"test": "abs(datum.value - round(datum.value)) < 0.01", "value": 5}, "value": 2.5}}},
            "y": {"field": "d", "type": "quantitative", "scale": {"domain": [-16.21, -10.85], "nice": false, "zero": false},
                  "axis": {"title": "dt", "titlePadding": 8, "values": [-16, -15, -14, -13, -12, -11],
                           "labelExpr": "'10⁻' + (-round(datum.value) >= 10 ? '¹' : '') + ['⁰','¹','²','³','⁴','⁵','⁶','⁷','⁸','⁹'][(-round(datum.value)) % 10]"}}
          },
          "layer": [
            {
              "data": {"name": "pg"},
              "mark": {"type": "line", "strokeWidth": 1.4, "opacity": 0.7, "strokeJoin": "round"},
              "encoding": {
                "color": {"field": "s", "type": "nominal",
                          "scale": {"domain": ["Pg/100", "Pg/10", "PD", "RKF", "HR"], "range": ["#00bfbf", "#bf00bf", "#ff0000", "#0000ff", "#008000"]},
                          "legend": {"title": null, "orient": "top-left", "offset": 5, "padding": 7, "rowPadding": 1, "labelFontSize": 17, "symbolType": "stroke", "symbolSize": 1100, "symbolStrokeWidth": 1.5, "labelOffset": 14,
                                     "encode": {"symbols": {"update": {
                                       "shape": {"signal": "indexof(['PD','RKF','HR'], datum.value) >= 0 ? 'circle' : 'stroke'"},
                                       "size": {"signal": "indexof(['PD','RKF','HR'], datum.value) >= 0 ? 20 : 1100"},
                                       "strokeWidth": {"value": 1.5},
                                       "stroke": {"signal": "datum.value === 'Pg/100' ? '#00bfbf' : datum.value === 'Pg/10' ? '#bf00bf' : 'transparent'"},
                                       "fill": {"signal": "datum.value === 'PD' ? '#ff0000' : datum.value === 'RKF' ? '#0000ff' : datum.value === 'HR' ? '#008000' : 'transparent'"},
                                       "opacity": {"signal": "indexof(['PD','RKF','HR'], datum.value) >= 0 ? 0.55 : 0.75"}
                                     }}}}
                }
              }
            },
            {
              "data": {"name": "sparse"},
              "mark": {"type": "point", "filled": true, "size": 18, "opacity": 0.55},
              "encoding": {"color": {"field": "s", "type": "nominal"}}
            },
            {
              "data": {"name": "dense"},
              "transform": [{"filter": "datum.s === 'PD'"}],
              "mark": {"type": "line", "strokeWidth": 4, "strokeJoin": "round", "strokeCap": "round"},
              "encoding": {"color": {"field": "s", "type": "nominal"}}
            },
            {
              "data": {"name": "dense"},
              "transform": [{"filter": "datum.s === 'RKF'"}],
              "mark": {"type": "line", "strokeWidth": 4.5, "strokeJoin": "round", "strokeCap": "round"},
              "encoding": {"color": {"field": "s", "type": "nominal"}}
            },
            {
              "data": {"name": "dense"},
              "transform": [{"filter": "datum.s === 'HR'"}],
              "mark": {"type": "line", "strokeWidth": 4, "strokeJoin": "round", "strokeCap": "round"},
              "encoding": {"color": {"field": "s", "type": "nominal"}}
            }
          ]
        }
      ],
      "spacing": 80,
      "bounds": "flush"
    }
  ],
  "config": {
    "font": "DejaVu Sans",
    "view": {"stroke": "#3a3a3a", "strokeWidth": 1},
    "axis": {"grid": false, "domain": false, "tickColor": "#222222", "tickWidth": 1, "tickSize": 5, "labelFont": "DejaVu Sans", "labelFontSize": 16, "labelColor": "#111111", "labelPadding": 3, "labelFlush": false, "labelOverlap": false, "titleFont": "DejaVu Sans", "titleFontSize": 24, "titleFontWeight": "normal", "titleColor": "#111111"},
    "legend": {"labelFont": "DejaVu Sans", "labelColor": "#111111", "fillColor": "#ffffff", "strokeColor": "#d0d0d0", "cornerRadius": 4},
    "title": {"font": "DejaVu Sans", "fontSize": 22, "fontWeight": "normal", "anchor": "start", "frame": "bounds", "color": "#111111"}
  }
}
